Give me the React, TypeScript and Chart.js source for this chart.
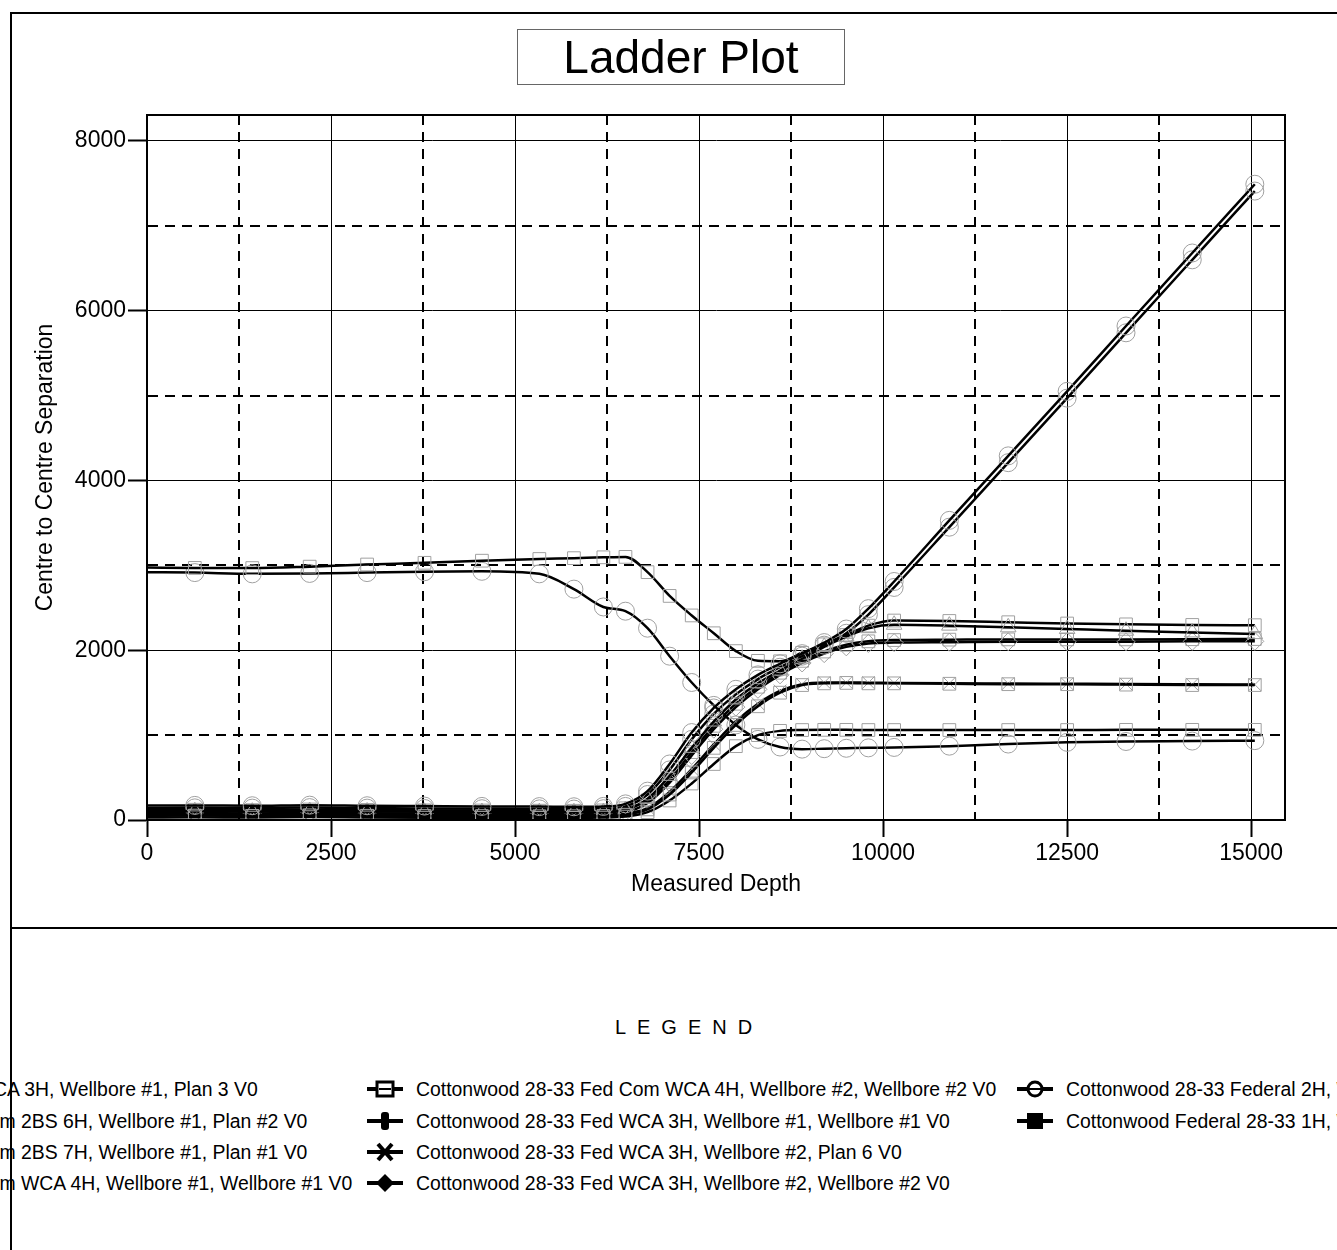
import React, { useEffect, useRef } from "react";
import { Chart, registerables } from "chart.js";

Chart.register(...registerables);

// ---------- data ----------
const depths = [0, 650, 1430, 2210, 2990, 3770, 4550, 5330, 5800, 6200, 6500, 6800, 7100, 7400, 7700, 8000, 8300, 8600, 8900, 9200, 9500, 9800, 10150, 10900, 11700, 12500, 13300, 14200, 15050];

const sepWca3hWb1Plan3 = [170, 172, 168, 175, 168, 164, 160, 158, 156, 160, 190, 340, 660, 1030, 1320, 1540, 1710, 1840, 1960, 2090, 2250, 2490, 2810, 3530, 4290, 5050, 5820, 6680, 7490];
const sep2bs6h = [50, 52, 48, 55, 50, 47, 46, 44, 44, 47, 62, 125, 300, 560, 850, 1120, 1340, 1500, 1590, 1610, 1615, 1610, 1610, 1605, 1600, 1600, 1595, 1590, 1590];
const sep2bs7h = [30, 32, 28, 34, 30, 27, 26, 25, 25, 28, 40, 92, 230, 430, 660, 870, 1000, 1050, 1060, 1062, 1062, 1060, 1060, 1060, 1060, 1060, 1062, 1062, 1062];
const sepWca4hWb1 = [100, 103, 98, 106, 100, 96, 94, 92, 91, 94, 118, 250, 520, 850, 1160, 1420, 1610, 1760, 1900, 2040, 2160, 2260, 2300, 2290, 2270, 2250, 2230, 2210, 2190];
const sepWca4hWb2 = [2975, 2970, 2968, 2985, 3010, 3030, 3055, 3075, 3085, 3095, 3100, 2920, 2640, 2410, 2200, 1990, 1875, 1870, 1970, 2070, 2180, 2290, 2350, 2345, 2330, 2315, 2305, 2298, 2295];
const sepWca3hWb1 = [140, 143, 140, 146, 140, 136, 133, 131, 129, 133, 160, 300, 590, 950, 1250, 1480, 1660, 1800, 1930, 2060, 2200, 2420, 2740, 3450, 4210, 4970, 5740, 6600, 7410];
const sepWca3hWb2Plan6 = [62, 65, 60, 67, 62, 59, 58, 56, 56, 59, 76, 140, 330, 600, 890, 1160, 1370, 1520, 1600, 1620, 1620, 1618, 1615, 1610, 1608, 1605, 1602, 1598, 1595];
const sepWca3hWb2 = [80, 83, 78, 86, 80, 77, 76, 74, 74, 77, 95, 200, 440, 760, 1070, 1330, 1540, 1710, 1850, 1960, 2040, 2080, 2090, 2095, 2100, 2100, 2100, 2105, 2105];
const sepFederal2h = [2920, 2915, 2900, 2905, 2915, 2925, 2930, 2900, 2720, 2510, 2460, 2260, 1930, 1620, 1350, 1120, 950, 860, 835, 840, 845, 850, 855, 870, 895, 915, 925, 930, 935];
const sepFederal1h = [118, 121, 116, 124, 118, 114, 112, 110, 109, 113, 138, 230, 470, 800, 1110, 1370, 1570, 1735, 1875, 1985, 2065, 2105, 2120, 2125, 2128, 2128, 2128, 2130, 2132];

const seriesLabels = [
  "Cottonwood 28-33 Fed WCA 3H, Wellbore #1, Plan 3 V0",
  "Cottonwood 28-33 Fed Com 2BS 6H, Wellbore #1, Plan #2 V0",
  "Cottonwood 28-33 Fed Com 2BS 7H, Wellbore #1, Plan #1 V0",
  "Cottonwood 28-33 Fed Com WCA 4H, Wellbore #1, Wellbore #1 V0",
  "Cottonwood 28-33 Fed Com WCA 4H, Wellbore #2, Wellbore #2 V0",
  "Cottonwood 28-33 Fed WCA 3H, Wellbore #1, Wellbore #1 V0",
  "Cottonwood 28-33 Fed WCA 3H, Wellbore #2, Plan 6 V0",
  "Cottonwood 28-33 Fed WCA 3H, Wellbore #2, Wellbore #2 V0",
  "Cottonwood 28-33 Federal 2H, Wellbore #1, Wellbore #1 V0",
  "Cottonwood Federal 28-33 1H, Wellbore #1, Wellbore #1 V0",
];
const seriesValues = [
  sepWca3hWb1Plan3, sep2bs6h, sep2bs7h, sepWca4hWb1, sepWca4hWb2,
  sepWca3hWb1, sepWca3hWb2Plan6, sepWca3hWb2, sepFederal2h, sepFederal1h,
];
const seriesPointStyles = ["circle", "rect", "rect", "triangle", "rect", "circle", "crossRot", "rectRot", "circle", "rect"];
const legendMarkerKinds = ["circleHollow", "rectHollow", "x", "diamond", "rectHollow", "bar", "x", "diamond", "circleHollow", "rectFilled"];

const xTickValues = [0, 1250, 2500, 3750, 5000, 6250, 7500, 8750, 10000, 11250, 12500, 13750, 15000];
const yTickValues = [0, 1000, 2000, 3000, 4000, 5000, 6000, 7000, 8000];
const xLabelStep = 2500;
const yLabelStep = 2000;

const FONT = "'Liberation Sans', Arial, Helvetica, sans-serif";

function LegendMarker({ kind, left, top }: { kind: string; left: number; top: number }) {
  return (
    <svg width={38} height={22} viewBox="0 0 38 22" style={{ position: "absolute", left, top }}>
      <line x1={1} y1={11} x2={37} y2={11} stroke="#000" strokeWidth={4} />
      {kind === "rectHollow" && (
        <>
          <rect x={11} y={4} width={16} height={14} fill="#fff" stroke="#000" strokeWidth={3} />
          <line x1={13} y1={11} x2={25} y2={11} stroke="#000" strokeWidth={2} />
        </>
      )}
      {kind === "rectFilled" && <rect x={11} y={3} width={16} height={16} fill="#000" />}
      {kind === "circleHollow" && (
        <>
          <circle cx={19} cy={11} r={7} fill="#fff" stroke="#000" strokeWidth={3} />
          <line x1={13} y1={11} x2={25} y2={11} stroke="#000" strokeWidth={2} />
        </>
      )}
      {kind === "bar" && <rect x={15} y={2} width={8} height={18} rx={3} fill="#000" />}
      {kind === "x" && (
        <>
          <line x1={12} y1={3} x2={26} y2={19} stroke="#000" strokeWidth={4} />
          <line x1={26} y1={3} x2={12} y2={19} stroke="#000" strokeWidth={4} />
        </>
      )}
      {kind === "diamond" && <polygon points="19,2 28,11 19,20 10,11" fill="#000" />}
    </svg>
  );
}

const framePlugin = {
  id: "plotFrame",
  afterDatasetsDraw(chart: any) {
    const { ctx, chartArea: a } = chart;
    ctx.save();
    ctx.strokeStyle = "#000";
    ctx.lineWidth = 2;
    ctx.strokeRect(a.left, a.top, a.right - a.left, a.bottom - a.top);
    ctx.restore();
  },
};

export default function App() {
  const ref = useRef<HTMLCanvasElement>(null);

  useEffect(() => {
    if (!ref.current) return;
    const datasets = seriesValues.map((vals, i) => ({
      label: seriesLabels[i],
      data: vals.map((v, j) => ({ x: depths[j], y: v })),
      borderColor: "#000",
      borderWidth: 2.5,
      cubicInterpolationMode: "monotone" as const,
      pointStyle: seriesPointStyles[i] as any,
      pointRadius: (c: any) => (c.dataIndex === 0 ? 0 : 9),
      pointBorderColor: "#a0a0a0",
      pointBackgroundColor: "rgba(0,0,0,0)",
      pointBorderWidth: 1,
      fill: false,
    }));

    const isMajor = (c: any, step: number) => c.tick && Math.round(c.tick.value) % step === 0;

    const chart = new Chart(ref.current, {
      type: "line",
      data: { datasets },
      plugins: [framePlugin],
      options: {
        animation: false,
        responsive: false,
        maintainAspectRatio: false,
        devicePixelRatio: 1,
        layout: { padding: { left: 0, top: 101, right: 52, bottom: 0 } },
        plugins: {
          legend: { display: false },
          tooltip: { enabled: false },
          title: { display: false },
        },
        scales: {
          x: {
            type: "linear",
            min: 0,
            max: 15460,
            afterBuildTicks: (s: any) => {
              s.ticks = xTickValues.map((v) => ({ value: v }));
            },
            afterFit: (s: any) => {
              s.height = 106;
            },
            ticks: {
              autoSkip: false,
              maxRotation: 0,
              padding: 3,
              color: "#000",
              font: { family: FONT, size: 23 },
              callback: (v: any) => (Number(v) % xLabelStep === 0 ? String(v) : ""),
            },
            grid: {
              color: "#000",
              lineWidth: (c: any) => (isMajor(c, xLabelStep) ? 1 : 2),
              tickLength: 17,
              tickWidth: 2,
              tickColor: (c: any) => (isMajor(c, xLabelStep) ? "#000" : "rgba(0,0,0,0)"),
            },
            border: {
              display: true,
              color: "#000",
              width: 2,
              dash: (c: any) => (c.tick && !isMajor(c, xLabelStep) ? [10, 7] : []),
            },
            title: {
              display: true,
              text: "Measured Depth",
              color: "#000",
              font: { family: FONT, size: 23 },
              padding: { top: 0, bottom: 28 },
            },
          },
          y: {
            type: "linear",
            min: 0,
            max: 8306,
            afterBuildTicks: (s: any) => {
              s.ticks = yTickValues.map((v) => ({ value: v }));
            },
            afterFit: (s: any) => {
              s.width = 135;
            },
            ticks: {
              autoSkip: false,
              padding: 2,
              color: "#000",
              font: { family: FONT, size: 23 },
              callback: (v: any) => (Number(v) % yLabelStep === 0 ? String(v) : ""),
            },
            grid: {
              color: "#000",
              lineWidth: (c: any) => (isMajor(c, yLabelStep) ? 1 : 2),
              tickLength: 19,
              tickWidth: 2,
              tickColor: (c: any) => (isMajor(c, yLabelStep) ? "#000" : "rgba(0,0,0,0)"),
            },
            border: {
              display: true,
              color: "#000",
              width: 2,
              dash: (c: any) => (c.tick && !isMajor(c, yLabelStep) ? [10, 7] : []),
            },
            title: {
              display: true,
              text: "Centre to Centre Separation",
              color: "#000",
              font: { family: FONT, size: 23 },
              padding: { top: 20, bottom: 0 },
            },
          },
        },
      } as any,
    });
    return () => chart.destroy();
  }, []);

  const colTextX = [-228, 416, 1066];
  const rowY = [1089, 1121, 1152, 1183];

  return (
    <div style={{ position: "absolute", left: 0, top: 0, width: 1337, height: 1250, overflow: "hidden", background: "#fff", fontFamily: FONT }}>
      {/* figure frame */}
      <div style={{ position: "absolute", left: 10, top: 12, width: 1400, height: 1300, borderLeft: "2px solid #000", borderTop: "2px solid #000" }} />
      <div style={{ position: "absolute", left: 10, top: 927, width: 1400, height: 2, background: "#000" }} />

      <canvas ref={ref} width={1325} height={912} style={{ position: "absolute", left: 12, top: 14, width: 1325, height: 912 }} />

      {/* title */}
      <div style={{ position: "absolute", left: 517, top: 29, width: 328, height: 56, boxSizing: "border-box", border: "1px solid #666", display: "flex", alignItems: "center", justifyContent: "center", fontSize: 46, color: "#000", lineHeight: 1 }}>
        Ladder Plot
      </div>

      {/* legend */}
      <div style={{ position: "absolute", left: 484, top: 1014, width: 410, textAlign: "center", fontSize: 20, letterSpacing: 11, lineHeight: "26px", color: "#000" }}>
        LEGEND
      </div>
      {seriesLabels.map((label, i) => {
        const col = Math.floor(i / 4);
        const row = i % 4;
        const tx = colTextX[col];
        const cy = rowY[row];
        return (
          <React.Fragment key={i}>
            <LegendMarker kind={legendMarkerKinds[i]} left={tx - 50} top={cy - 11} />
            <div style={{ position: "absolute", left: tx, top: cy - 12, fontSize: 19.4, lineHeight: "24px", whiteSpace: "nowrap", color: "#000" }}>
              {label}
            </div>
          </React.Fragment>
        );
      })}
    </div>
  );
}
